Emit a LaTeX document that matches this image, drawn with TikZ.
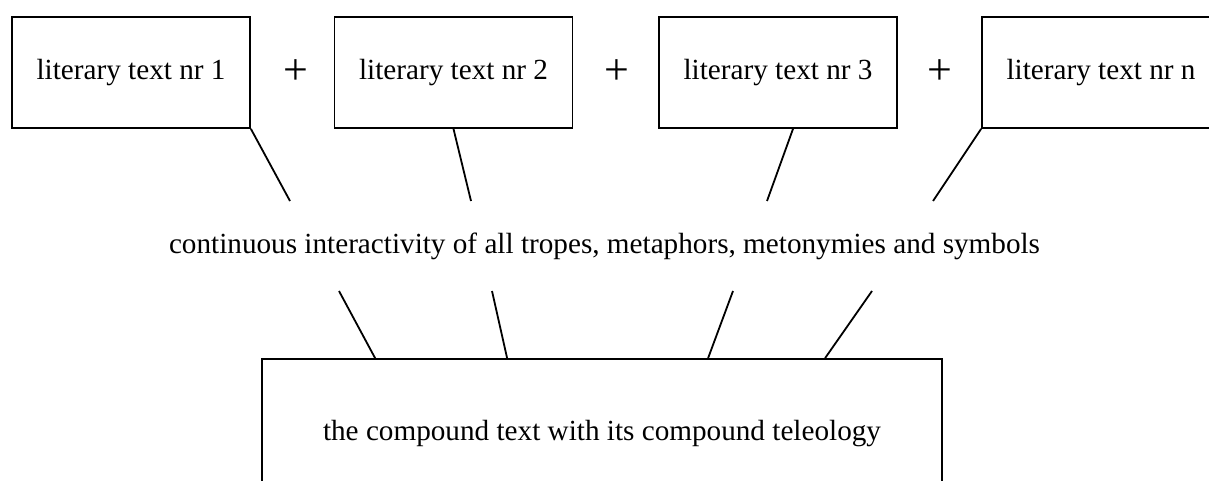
\documentclass[tikz,border=0pt]{standalone}
\usepackage{fontspec}
\setmainfont{Liberation Serif}
\begin{document}
\begin{tikzpicture}[x=1pt,y=-1pt,
  lbl/.style={font=\fontsize{29.2}{34}\selectfont, inner sep=0pt},
  textbox/.style={draw, line width=1.8pt, minimum width=238pt, minimum height=111pt, inner sep=0pt, font=\fontsize{29.2}{34}\selectfont},
  plussign/.style={font=\fontsize{44}{50}\selectfont, inner sep=0pt},
  conn/.style={line width=1.8pt}]
\useasboundingbox (0,0) rectangle (1209,481);
\clip (0,0) rectangle (1209,481);
% top boxes
\node[textbox] (t1) at (131,72.5) {literary text nr 1};
\node[textbox] (t2) at (453.5,72.5) {literary text nr 2};
\node[textbox] (t3) at (778,72.5) {literary text nr 3};
\node[textbox] (t4) at (1101,72.5) {literary text nr n};
% plus signs
\node[plussign] (p1) at (296,72) {+};
\node[plussign] (p2) at (617,72) {+};
\node[plussign] (p3) at (940,72) {+};
% middle text
\node[lbl] (mid) at (604.5,246) {continuous interactivity of all tropes, metaphors, metonymies and symbols};
% bottom box
\node[textbox, minimum width=680pt, minimum height=150pt] (bot) at (602,434) {the compound text with its compound teleology};
% free ends
\coordinate (a1) at (290,201);
\coordinate (a2) at (471,201);
\coordinate (a3) at (767,201);
\coordinate (a4) at (933,201);
\coordinate (b1) at (339,291);
\coordinate (b2) at (492,291);
\coordinate (b3) at (733,291);
\coordinate (b4) at (872,291);
% upper connectors
\draw[conn] (t1.south east) -- (a1);
\draw[conn] (t2.south) -- (a2);
\draw[conn] ([xshift=15pt]t3.south) -- (a3);
\draw[conn] (t4.south west) -- (a4);
% lower connectors
\draw[conn] (b1) -- ([xshift=114pt]bot.north west);
\draw[conn] (b2) -- ([xshift=246pt]bot.north west);
\draw[conn] (b3) -- ([xshift=447pt]bot.north west);
\draw[conn] (b4) -- ([xshift=564pt]bot.north west);
\end{tikzpicture}
\end{document}
